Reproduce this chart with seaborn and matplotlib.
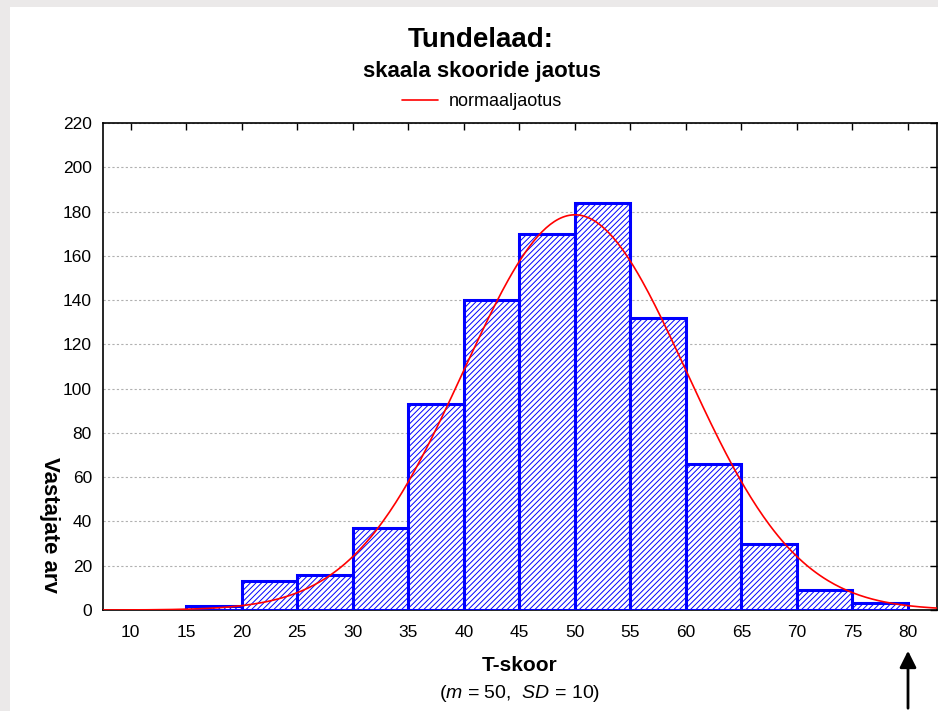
import numpy as np
import pandas as pd
import matplotlib
matplotlib.use('Agg')
import matplotlib.pyplot as plt
import seaborn as sns
from matplotlib.patches import Rectangle

# andmed (loetud jooniselt)
bin_edges = [15, 20, 25, 30, 35, 40, 45, 50, 55, 60, 65, 70, 75, 80]
counts = [2, 13, 16, 37, 93, 140, 170, 184, 132, 66, 30, 9, 3]
x_ticks = list(range(10, 85, 5))
y_ticks = list(range(0, 240, 20))
mean_t = 50
sd_t = 10

sns.set_style('white')
plt.rcParams['font.family'] = ['Liberation Sans', 'DejaVu Sans']
plt.rcParams['mathtext.fontset'] = 'custom'
plt.rcParams['mathtext.rm'] = 'Liberation Sans'
plt.rcParams['mathtext.it'] = 'Liberation Sans:italic'
plt.rcParams['hatch.linewidth'] = 0.7
for k in ['text.color', 'axes.labelcolor', 'xtick.color', 'ytick.color']:
    plt.rcParams[k] = 'black'

fig = plt.figure(figsize=(9.38, 7.11), dpi=100, facecolor='#ebe9e9')
fig.add_artist(Rectangle((10 / 938, 0), 1, 1 - 7 / 711, transform=fig.transFigure,
                         facecolor='white', edgecolor='none', zorder=0))

ax = fig.add_axes([0.1098, 0.142, 0.889, 0.685])

centers = [(a + b) / 2 for a, b in zip(bin_edges[:-1], bin_edges[1:])]
df = pd.DataFrame({'t': centers, 'n': counts})
sns.histplot(data=df, x='t', weights='n', bins=bin_edges, ax=ax, zorder=3)
for p in ax.patches:
    p.set_alpha(1)
    p.set_facecolor('white')
    p.set_edgecolor('blue')
    p.set_hatch('//////')
    p.set_linewidth(2.2)

# normaaljaotuse kõver
width = bin_edges[1] - bin_edges[0]
xs = np.linspace(7.5, 82.6, 400)
ys = sum(counts) * width * np.exp(-0.5 * ((xs - mean_t) / sd_t) ** 2) / (sd_t * np.sqrt(2 * np.pi))
sns.lineplot(x=xs, y=ys, color='red', lw=1.2, ax=ax, zorder=5, label='normaaljaotus')

ax.set_xlim(7.5, 82.6)
ax.set_ylim(0, 220)
ax.set_xticks(x_ticks)
ax.set_yticks(y_ticks)
ax.set_xlabel('')
ax.set_ylabel('')
ax.tick_params(direction='in', length=5, width=1, top=True, right=True, labelsize=12.5)
ax.tick_params(axis='x', pad=11)
ax.tick_params(axis='y', pad=8)
ax.yaxis.grid(True, linestyle=(0, (2, 2)), color='#b0b0b0', lw=0.8)
ax.set_axisbelow(True)
for s in ax.spines.values():
    s.set_visible(True)
    s.set_color('black')
    s.set_linewidth(1.2)

ax.legend(loc='center', bbox_to_anchor=(0.514, 0.857), bbox_transform=fig.transFigure,
          frameon=False, fontsize=13, handlelength=2.0, handletextpad=0.6)

fig.text(0.512, 0.944, 'Tundelaad:', ha='center', va='center', fontsize=20, fontweight='bold')
fig.text(0.514, 0.899, 'skaala skooride jaotus', ha='center', va='center', fontsize=16, fontweight='bold')
fig.text(0.554, 0.064, 'T-skoor', ha='center', va='center', fontsize=15, fontweight='bold')
fig.text(0.554, 0.025, r'($m$ = 50,  $SD$ = 10)', ha='center', va='center', fontsize=14)
fig.text(0.053, 0.262, 'Vastajate arv', rotation=270, ha='center', va='center',
         fontsize=16, fontweight='bold')

ax.annotate('', xy=(80, 1 - 648 / 711), xycoords=('data', 'figure fraction'),
            xytext=(80, 0), textcoords=('data', 'figure fraction'),
            arrowprops=dict(arrowstyle='-|>', color='black', lw=2, mutation_scale=25),
            annotation_clip=False)

fig.savefig('out.png', dpi=100, facecolor=fig.get_facecolor())
